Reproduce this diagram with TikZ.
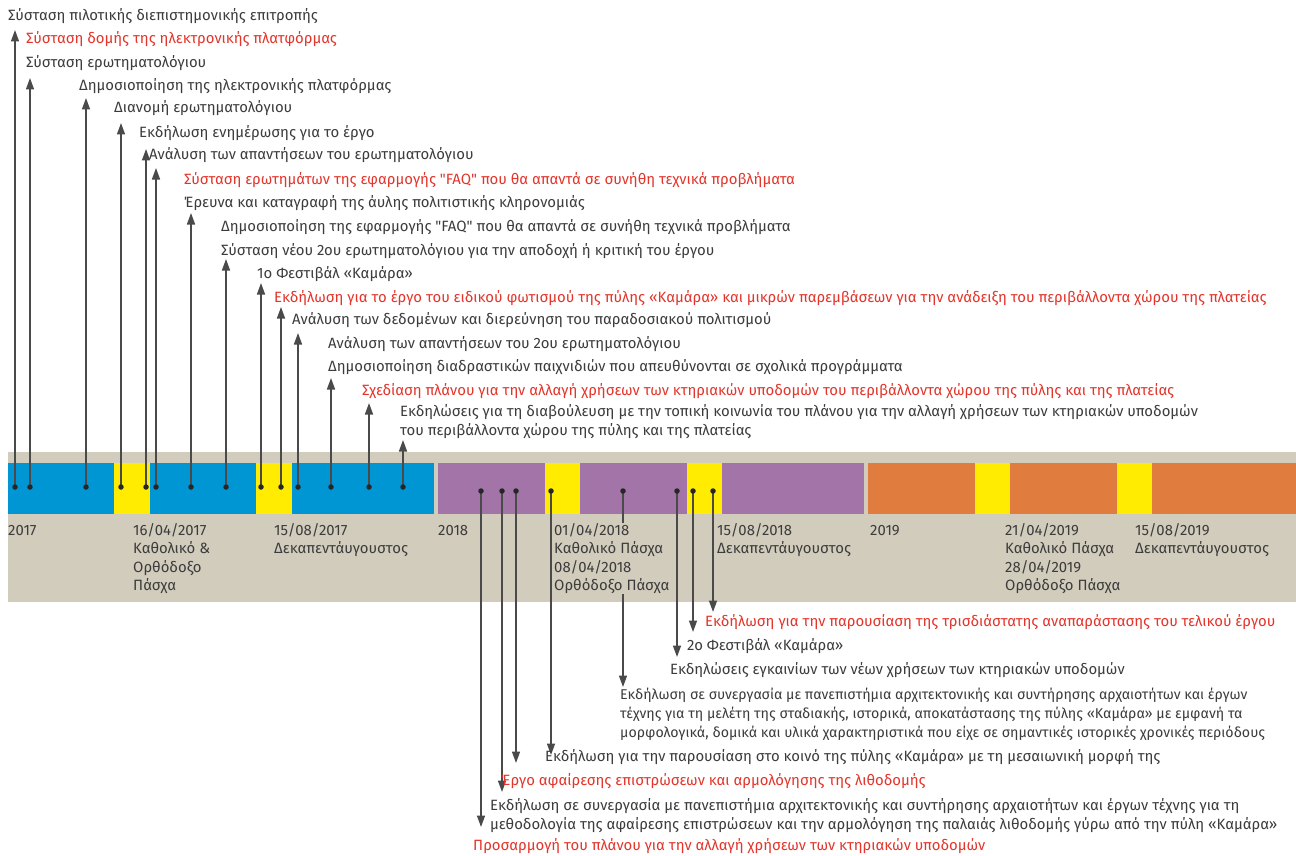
\documentclass[tikz,border=0pt]{standalone}
\usepackage{fontspec}
\setmainfont{Fira Sans}
\usetikzlibrary{arrows.meta}
\definecolor{bandgrey}{HTML}{D2CCBD}
\definecolor{cblue}{HTML}{0096D3}
\definecolor{cpurple}{HTML}{A374A8}
\definecolor{corange}{HTML}{E07C3E}
\definecolor{cyellow}{HTML}{FFEC00}
\definecolor{txt}{HTML}{3C3C3C}
\definecolor{tred}{HTML}{E3352B}
\definecolor{arrgrey}{HTML}{4A4A4A}
\newcommand{\qq}{\textquotedbl}
\begin{document}
\begin{tikzpicture}[x=1pt,y=-1pt,
  lbl/.style={anchor=base west,inner sep=0pt,text=txt,font=\fontsize{14.9}{19}\selectfont,align=left},
  redlbl/.style={lbl,text=tred},
  datelbl/.style={lbl,fill=bandgrey,font=\fontsize{14.9}{18.6}\selectfont},
  dot/.style={circle,fill=black!85,inner sep=0pt,minimum size=5.5pt},
  arr/.style={draw=arrgrey,line width=1.6pt,-{Triangle[length=11.5pt,width=8pt]}},
]
\useasboundingbox (0,0) rectangle (1296,856);
\fill[white] (0,0) rectangle (1296,856);
% band
\fill[bandgrey] (8,452) rectangle (1296,602);
\fill[cblue] (8,463) rectangle (434,514);
\fill[cpurple] (438,463) rectangle (864,514);
\fill[corange] (868,463) rectangle (1296,514);
\foreach \a/\b in {114/150,256/292,545/580,687/722,975/1010,1117/1152}
  \fill[cyellow] (\a,463) rectangle (\b,514);
% upward arrows (2017)
\foreach \i/\x/\t in {1/15/30,2/30/78,3/86/98,4/121/123,5/146/149,6/156/168,7/191/213,8/226/259,9/261/283,10/281/307,11/298/333,12/331/378,13/369/403,14/403/440}{
  \coordinate (ub\i) at (\x,487);
  \coordinate (ut\i) at (\x,\t);
  \draw[arr] (ub\i) -- (ut\i);
  \node[dot] (u\i) at (ub\i) {};
}
% downward arrows (2018)
\foreach \i/\x/\t in {1/481/827,2/502/792,3/516/763,4/551/755,5/623/687,6/677/657,7/693/632,8/713/612}{
  \coordinate (db\i) at (\x,491);
  \coordinate (dt\i) at (\x,\t);
  \draw[arr] (db\i) -- (dt\i);
  \node[dot] (d\i) at (db\i) {};
}
% date labels (base = last line)
\node[datelbl] (y17) at (8,535) {2017};
\node[datelbl] (p17) at (133,590.8) {16/04/2017\\Καθολικό \&\\Ορθόδοξο\\Πάσχα};
\node[datelbl] (a17) at (274,553.6) {15/08/2017\\Δεκαπεντάυγουστος};
\node[datelbl] (y18) at (438,535) {2018};
\node[datelbl] (p18) at (554,590.8) {01/04/2018\\Καθολικό Πάσχα\\08/04/2018\\Ορθόδοξο Πάσχα};
\node[datelbl] (a18) at (717,553.6) {15/08/2018\\Δεκαπεντάυγουστος};
\node[datelbl] (y19) at (870,535) {2019};
\node[datelbl] (p19) at (1005,590.8) {21/04/2019\\Καθολικό Πάσχα\\28/04/2019\\Ορθόδοξο Πάσχα};
\node[datelbl] (a19) at (1135,553.6) {15/08/2019\\Δεκαπεντάυγουστος};
% top labels
\node[lbl] (L1) at (8,21) {Σύσταση πιλοτικής διεπιστημονικής επιτροπής};
\node[redlbl] (L2) at (26,44) {Σύσταση δομής της ηλεκτρονικής πλατφόρμας};
\node[lbl] (L3) at (26,68) {Σύσταση ερωτηματολόγιου};
\node[lbl] (L4) at (79,91) {Δημοσιοποίηση της ηλεκτρονικής πλατφόρμας};
\node[lbl] (L5) at (114,113) {Διανομή ερωτηματολόγιου};
\node[lbl] (L6) at (139,138) {Εκδήλωση ενημέρωσης για το έργο};
\node[lbl] (L7) at (149,160) {Ανάλυση των απαντήσεων του ερωτηματολόγιου};
\node[redlbl] (L8) at (184,185) {Σύσταση ερωτημάτων της εφαρμογής \qq FAQ\qq{} που θα απαντά σε συνήθη τεχνικά προβλήματα};
\node[lbl] (L9) at (184,207) {Έρευνα και καταγραφή της άυλης πολιτιστικής κληρονομιάς};
\node[lbl] (L10) at (221,231) {Δημοσιοποίηση της εφαρμογής \qq FAQ\qq{} που θα απαντά σε συνήθη τεχνικά προβλήματα};
\node[lbl] (L11) at (221,255) {Σύσταση νέου 2ου ερωτηματολόγιου για την αποδοχή ή κριτική του έργου};
\node[lbl] (L12) at (257,278) {1ο Φεστιβάλ «Καμάρα»};
\node[redlbl] (L13) at (274,302) {Εκδήλωση για το έργο του ειδικού φωτισμού της πύλης «Καμάρα» και μικρών παρεμβάσεων για την ανάδειξη του περιβάλλοντα χώρου της πλατείας};
\node[lbl] (L14) at (292,324) {Ανάλυση των δεδομένων και διερεύνηση του παραδοσιακού πολιτισμού};
\node[lbl] (L15) at (328,348) {Ανάλυση των απαντήσεων του 2ου ερωτηματολόγιου};
\node[lbl] (L16) at (328,371) {Δημοσιοποίηση διαδραστικών παιχνιδιών που απευθύνονται σε σχολικά προγράμματα};
\node[redlbl] (L17) at (362,395) {Σχεδίαση πλάνου για την αλλαγή χρήσεων των κτηριακών υποδομών του περιβάλλοντα χώρου της πύλης και της πλατείας};
\node[lbl] (L18) at (400,435) {Εκδηλώσεις για τη διαβούλευση με την τοπική κοινωνία του πλάνου για την αλλαγή χρήσεων των κτηριακών υποδομών\\του περιβάλλοντα χώρου της πύλης και της πλατείας};
% bottom labels
\node[redlbl] (B1) at (705,626) {Εκδήλωση για την παρουσίαση της τρισδιάστατης αναπαράστασης του τελικού έργου};
\node[lbl] (B2) at (687,650) {2ο Φεστιβάλ «Καμάρα»};
\node[lbl] (B3) at (670,674) {Εκδηλώσεις εγκαινίων των νέων χρήσεων των κτηριακών υποδομών};
\node[lbl,font=\fontsize{14.2}{19}\selectfont] (B4) at (620,737) {Εκδήλωση σε συνεργασία με πανεπιστήμια αρχιτεκτονικής και συντήρησης αρχαιοτήτων και έργων\\τέχνης για τη μελέτη της σταδιακής, ιστορικά, αποκατάστασης της πύλης «Καμάρα» με εμφανή τα\\μορφολογικά, δομικά και υλικά χαρακτηριστικά που είχε σε σημαντικές ιστορικές χρονικές περιόδους};
\node[lbl] (B5) at (545,761) {Εκδήλωση για την παρουσίαση στο κοινό της πύλης «Καμάρα» με τη μεσαιωνική μορφή της};
\node[redlbl] (B6) at (501,785) {Έργο αφαίρεσης επιστρώσεων και αρμολόγησης της λιθοδομής};
\node[lbl] (B7) at (490,829) {Εκδήλωση σε συνεργασία με πανεπιστήμια αρχιτεκτονικής και συντήρησης αρχαιοτήτων και έργων τέχνης για τη\\μεθοδολογία της αφαίρεσης επιστρώσεων και την αρμολόγηση της παλαιάς λιθοδομής γύρω από την πύλη «Καμάρα»};
\node[redlbl] (B8) at (473,850) {Προσαρμογή του πλάνου για την αλλαγή χρήσεων των κτηριακών υποδομών};
\end{tikzpicture}
\end{document}
